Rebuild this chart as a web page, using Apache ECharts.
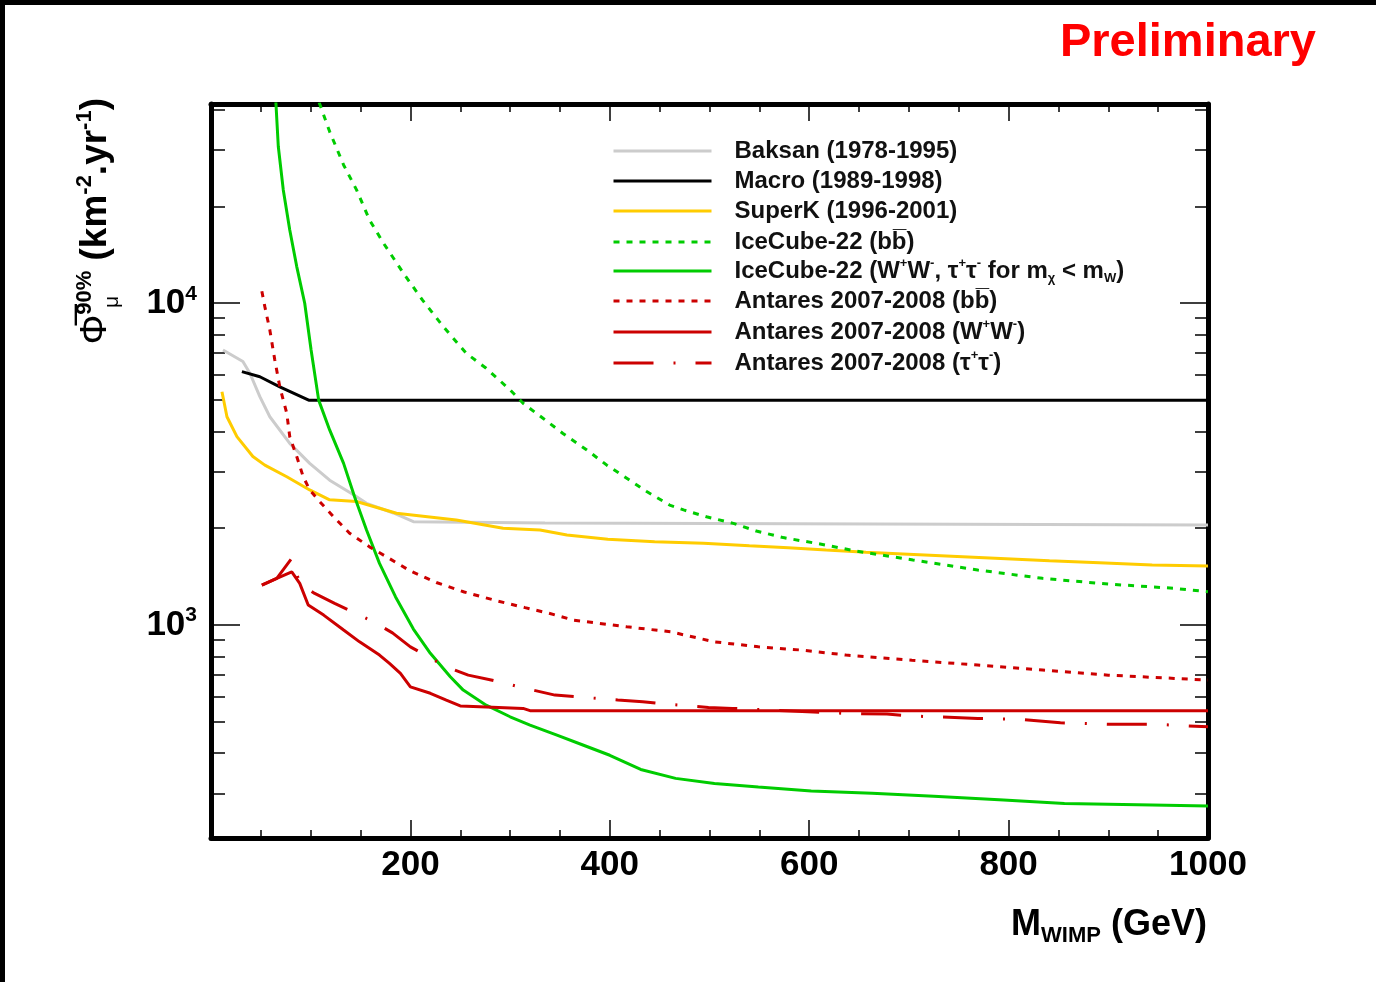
<!DOCTYPE html>
<html><head><meta charset="utf-8">
<script src="https://cdn.jsdelivr.net/npm/echarts@6/dist/echarts.min.js"></script>
<style>
html,body{margin:0;padding:0;background:#fff;}
#c{position:absolute;left:0;top:0;width:1376px;height:982px;}
.bt{position:absolute;left:0;top:0;width:1376px;height:5px;background:#000;}
.bl{position:absolute;left:0;top:0;width:5px;height:982px;background:#000;}
</style></head><body>
<div id="c"></div><div class="bt"></div><div class="bl"></div>
<script>
// ---- data (M_WIMP in GeV, flux limit in km^-2 yr^-1) ----
const X_MIN = 0, X_MAX = 1000;
const Y_MIN = 218, Y_MAX = 41600;
const X_TICK_LABELS = [200, 400, 600, 800, 1000];
const Y_MAJOR_TICKS = [1000, 10000];
const Y_MINOR_TICKS = [300,400,500,600,700,800,900,2000,3000,4000,5000,6000,7000,8000,9000,20000,30000,40000];

const SERIES_NAMES = [
  'Baksan (1978-1995)', 'Macro (1989-1998)', 'SuperK (1996-2001)',
  'IceCube-22 (bb)', 'IceCube-22 (WW, tautau)',
  'Antares 2007-2008 (bb)', 'Antares 2007-2008 (WW)', 'Antares 2007-2008 (tautau)'
];

const baksan = [[12,7160],[32,6590],[39,6060],[49,5130],[59,4440],[79,3670],[99,3180],[119,2820],[143,2540],[156,2390],[183,2230],[203,2095],[335,2075],[337,2046],[1000,2046]];
const macro = [[31,6130],[49,5910],[69,5500],[98,5000],[1000,5000]];
const superk = [[11,5310],[16,4440],[26,3850],[42,3340],[54,3140],[76,2890],[99,2630],[119,2450],[146,2420],[186,2225],[246,2120],[293,2000],[330,1975],[357,1905],[398,1847],[445,1816],[494,1795],[540,1764],[579,1739],[617,1710],[657,1683],[694,1663],[841,1585],[891,1562],[944,1537],[1000,1526]];
const icecubeBB = [[104,45900],[109,41600],[119,34150],[133,26900],[146,22500],[159,18150],[173,15370],[193,12400],[212,10240],[233,8460],[256,6990],[276,6280],[300,5380],[313,4890],[333,4390],[353,3940],[377,3500],[397,3140],[417,2860],[437,2600],[460,2360],[474,2280],[497,2170],[524,2070],[547,1960],[574,1870],[611,1786],[647,1698],[677,1642],[704,1593],[769,1483],[834,1397],[900,1341],[966,1301],[1000,1269]];
const icecubeWW = [[65,42500],[67.5,30700],[72.5,22500],[79,16900],[86,13000],[94,10000],[100.4,7160],[108,5000],[119,4040],[133,3180],[144,2505],[156,1974],[169,1555],[185,1225],[203,972],[220,817],[240,691],[253,628],[276,564],[300,519],[320,489],[347,455],[373,424],[400,394],[431,356],[466,334],[505,322],[549,314],[602,305],[663,300],[725,294],[795,286],[856,279],[944,276],[1000,274]];
const antaresBB = [[51,10900],[54,9760],[59,8260],[64,6660],[69,5500],[76,4550],[79,3850],[86,3340],[92.5,2890],[99,2630],[109,2420],[123,2170],[139,1930],[159,1750],[176,1630],[200,1472],[226,1356],[254,1267],[287,1189],[315,1133],[339,1088],[364,1036],[390,1012],[417,988],[461,953],[505,887],[549,856],[593,836],[637,807],[703,778],[769,751],[834,725],[900,699],[966,683],[1000,675]];
const antaresWW = [[51,1331],[66,1397],[81,1464],[89,1348],[97.5,1154],[113,1074],[133,965],[149,887],[169,807],[179,760],[190,708],[200,643],[220,614],[236,585],[250,561],[276,557],[313,551],[320,542],[1000,542]];
const antaresTT = [[51,1331],[66,1397],[81,1612],[89,1348],[104,1254],[124,1168],[143,1095],[163,1024],[182,946],[200,856],[236,742],[258,699],[281,675],[323,628],[345,606],[366,599],[408,585],[433,578],[457,568],[499,555],[523,551],[634,532],[678,529],[702,522],[769,513],[812,509],[852,497],[902,492],[946,492],[1000,483]];

// ---- styling ----
const F = "'Liberation Sans', Arial, Helvetica, sans-serif";
const RED = '#cc0000', GREEN = '#00cc00', YELLOW = '#ffcc00', GRAY = '#cccccc', BLACK = '#000000';
const DOT = [6, 7];
const DASHDOT = [40, 20, 2, 20];

const SERIES_DEFS = [
  [baksan, GRAY, 'solid'],
  [macro, BLACK, 'solid'],
  [superk, YELLOW, 'solid'],
  [icecubeBB, GREEN, DOT],
  [icecubeWW, GREEN, 'solid'],
  [antaresBB, RED, DOT],
  [antaresWW, RED, 'solid'],
  [antaresTT, RED, DASHDOT]
];

const LEGEND_RICH_TEXT = {
  'Baksan (1978-1995)': '{g|}{n|Baksan (1978-1995)}',
  'Macro (1989-1998)': '{g|}{n|Macro (1989-1998)}',
  'SuperK (1996-2001)': '{g|}{n|SuperK (1996-2001)}',
  'IceCube-22 (bb)': '{g|}{n|IceCube-22 (bb\u0305)}',
  'IceCube-22 (WW, tautau)': '{g|}{n|IceCube-22 (W}{sp|+}{n|W}{sp|-}{n|, \u03c4}{sp|+}{n|\u03c4}{sp|-}{n| for m}{sb|\u03c7}{n| < m}{sb|W}{n|)}',
  'Antares 2007-2008 (bb)': '{g|}{n|Antares 2007-2008 (bb\u0305)}',
  'Antares 2007-2008 (WW)': '{g|}{n|Antares 2007-2008 (W}{sp|+}{n|W}{sp|-}{n|)}',
  'Antares 2007-2008 (tautau)': '{g|}{n|Antares 2007-2008 (\u03c4}{sp|+}{n|\u03c4}{sp|-}{n|)}'
};
const LEGEND_ROW_Y = [151, 181, 211, 242, 269, 301, 330, 361];

const chart = echarts.init(document.getElementById('c'), null, {renderer: 'canvas'});

const LMIN = Math.log10(Y_MIN), LMAX = Math.log10(Y_MAX);
const majLog = Y_MAJOR_TICKS.map(v => Math.log10(v));
const minLog = Y_MINOR_TICKS.map(v => Math.log10(v));

const frameLine = {show: true, onZero: false, lineStyle: {color: '#000', width: 5}};

function tickAxisY(position, ticks, len, withLine, withLabels) {
  return {
    type: 'value', position, min: LMIN, max: LMAX,
    axisLine: withLine ? frameLine : {show: false},
    splitLine: {show: false},
    axisTick: {show: true, inside: true, length: len, customValues: ticks, lineStyle: {color: '#000', width: 1.5}},
    axisLabel: withLabels ? {
      show: true, customValues: ticks, margin: 14,
      formatter: v => '{b|10}{s|' + Math.round(v) + '}',
      rich: {
        b: {fontSize: 35, fontWeight: 'bold', fontFamily: F, color: '#000', lineHeight: 40},
        s: {fontSize: 21, fontWeight: 'bold', fontFamily: F, color: '#000', verticalAlign: 'top', lineHeight: 40, padding: [0,0,14,0]}
      }
    } : {show: false}
  };
}

const legendRich = {
  g: {width: 18},
  n: {fontSize: 24, fontWeight: 'bold', fontFamily: F, color: '#111', lineHeight: 28},
  sp: {fontSize: 13, fontWeight: 'bold', fontFamily: F, color: '#111', verticalAlign: 'top', lineHeight: 28, padding: [0,0,10,0]},
  sb: {fontSize: 13, fontWeight: 'bold', fontFamily: F, color: '#111', verticalAlign: 'bottom', lineHeight: 28, padding: [10,0,0,0]}
};

const option = {
  animation: false,
  backgroundColor: '#fff',
  grid: {left: 211, right: 168, top: 104, bottom: 144, containLabel: false},
  xAxis: [
    {
      type: 'value', position: 'bottom', min: X_MIN, max: X_MAX, interval: 200,
      axisLine: frameLine,
      splitLine: {show: false},
      axisTick: {show: true, inside: true, length: 18, lineStyle: {color: '#000', width: 1.5}},
      minorTick: {show: true, splitNumber: 4, length: 8, lineStyle: {color: '#000', width: 1.5}},
      axisLabel: {
        show: true, margin: 10, color: '#000', fontSize: 35, fontWeight: 'bold', fontFamily: F,
        customValues: X_TICK_LABELS, formatter: v => String(v)
      }
    },
    {
      type: 'value', position: 'top', min: X_MIN, max: X_MAX, interval: 200,
      axisLine: frameLine,
      splitLine: {show: false},
      axisTick: {show: true, inside: true, length: 17, lineStyle: {color: '#000', width: 1.5}},
      minorTick: {show: true, splitNumber: 4, length: 8, lineStyle: {color: '#000', width: 1.5}},
      axisLabel: {show: false}
    }
  ],
  yAxis: [
    {type: 'log', logBase: 10, min: Y_MIN, max: Y_MAX, show: false},
    tickAxisY('left', majLog, 29, true, true),
    tickAxisY('left', minLog, 14, false, false),
    tickAxisY('right', majLog, 28, true, false),
    tickAxisY('right', minLog, 13, false, false)
  ],
  legend: SERIES_NAMES.map((name, i) => ({
    data: [name], left: 612, top: LEGEND_ROW_Y[i] - 12, orient: 'vertical', padding: 0,
    itemWidth: 98, itemHeight: 24, selectedMode: false,
    lineStyle: {width: 3},
    itemStyle: {opacity: 0},
    formatter: n => LEGEND_RICH_TEXT[n],
    textStyle: {fontSize: 24, fontWeight: 'bold', fontFamily: F, color: '#111', rich: legendRich}
  })),
  series: SERIES_DEFS.map((d, i) => ({
    type: 'line', name: SERIES_NAMES[i], data: d[0],
    xAxisIndex: 0, yAxisIndex: 0,
    symbol: 'none', showSymbol: false, silent: true, clip: true,
    lineStyle: {color: d[1], width: 3, type: d[2], cap: 'butt'},
    itemStyle: {color: d[1]},
    z: 3 + i
  })),
  graphic: [
    {
      type: 'text', right: 60, top: 20,
      style: {text: 'Preliminary', fill: '#ff0000', font: 'bold 47px ' + F}
    },
    {
      type: 'text', x: 1207, y: 925,
      style: {
        text: '{m|M}{w|WIMP}{m| (GeV)}', align: 'right', verticalAlign: 'middle',
        rich: {
          m: {fontSize: 36, fontWeight: 'bold', fontFamily: F, fill: '#000', lineHeight: 44},
          w: {fontSize: 22, fontWeight: 'bold', fontFamily: F, fill: '#000', verticalAlign: 'bottom', lineHeight: 44, padding: [14,0,0,0]}
        }
      }
    },
    {
      type: 'text', x: 96, y: 98, rotation: Math.PI / 2,
      style: {
        text: '{p|\u03a6\u0305}{s|90%}{n| (km}{s|-2}{n|.yr}{s|-1}{n|)}', align: 'right', verticalAlign: 'middle',
        rich: {
          p: {fontSize: 37, fontWeight: 'normal', fontFamily: F, fill: '#000', lineHeight: 44},
          n: {fontSize: 37, fontWeight: 'bold', fontFamily: F, fill: '#000', lineHeight: 44},
          s: {fontSize: 22, fontWeight: 'bold', fontFamily: F, fill: '#000', verticalAlign: 'top', lineHeight: 44, padding: [0,0,14,0]}
        }
      }
    },
    {
      type: 'text', x: 112, y: 302, rotation: Math.PI / 2,
      style: {text: '\u03bc', align: 'center', verticalAlign: 'middle', fill: '#000', font: '21px ' + F}
    }
  ]
};
chart.setOption(option);
</script>
</body></html>
